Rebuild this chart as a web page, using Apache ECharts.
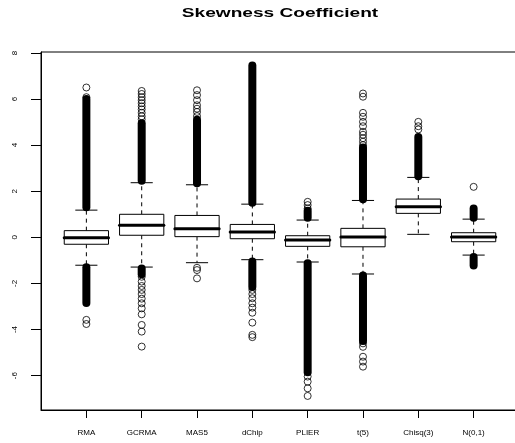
<!DOCTYPE html>
<html>
<head>
<meta charset="utf-8">
<title>Skewness Coefficient</title>
<script src="https://cdn.jsdelivr.net/npm/echarts@6/dist/echarts.min.js"></script>
<style>
  html, body { margin: 0; padding: 0; background: #fff; }
  #chart { width: 515px; height: 443px; }
</style>
</head>
<body>
<div id="chart"></div>
<script>

// 数据
//-----

// 各方法名称
var categories = ['RMA', 'GCRMA', 'MAS5', 'dChip', 'PLIER', 't(5)', 'Chisq(3)', 'N(0,1)'];

// 箱线图统计量
var whiskerLow  = [-1.21, -1.29, -1.10, -0.97, -1.07, -1.59, 0.13, -0.77];
var quartile1   = [-0.30,  0.09,  0.03, -0.06, -0.39, -0.41, 1.04, -0.19];
var medians     = [-0.02,  0.52,  0.37,  0.23, -0.12,  0.01, 1.33,  0.01];
var quartile3   = [ 0.29,  1.00,  0.95,  0.56,  0.07,  0.39, 1.66,  0.20];
var whiskerHigh = [ 1.18,  2.37,  2.28,  1.44,  0.75,  1.60, 2.60,  0.79];

// 异常值密集区间 [组号, 下端, 上端]
var denseRanges = [
  [1, 1.30, 6.00], [1, -2.85, -1.30],
  [2, 2.45, 4.95], [2, -1.60, -1.35],
  [3, 2.35, 5.10],
  [4, 1.50, 7.45], [4, -2.15, -1.05],
  [5, 0.85, 1.15], [5, -5.85, -1.12],
  [6, 1.65, 3.90], [6, -4.50, -1.65],
  [7, 2.65, 4.35],
  [8, 0.85, 1.25], [8, -1.22, -0.85]
];

// 单独的异常值 [组号, 数值]
var outliers = [
  [1, 6.50], [1, 6.08], [1, -3.58], [1, -3.76],
  [2, 6.35], [2, 6.22], [2, 6.08], [2, 5.95], [2, 5.82], [2, 5.68], [2, 5.55], [2, 5.40], [2, 5.25], [2, 5.12],
  [2, -1.71], [2, -1.92], [2, -2.11], [2, -2.28], [2, -2.46], [2, -2.66], [2, -2.86], [2, -3.08], [2, -3.34],
  [2, -3.80], [2, -4.09], [2, -4.74],
  [3, 6.38], [3, 6.17], [3, 5.95], [3, 5.73], [3, 5.58], [3, 5.44], [3, 5.26],
  [3, -1.32], [3, -1.42], [3, -1.78],
  [4, -2.28], [4, -2.46], [4, -2.64], [4, -2.86], [4, -3.05], [4, -3.27], [4, -3.70], [4, -4.23], [4, -4.33],
  [5, 1.54], [5, 1.40], [5, 1.25],
  [5, -6.04], [5, -6.26], [5, -6.55], [5, -6.88],
  [6, 6.24], [6, 6.10], [6, 5.40], [6, 5.23], [6, 5.01], [6, 4.82], [6, 4.58], [6, 4.45], [6, 4.30], [6, 4.15], [6, 4.00],
  [6, -4.60], [6, -4.75], [6, -5.18], [6, -5.39], [6, -5.61],
  [7, 5.01], [7, 4.82], [7, 4.68],
  [8, 2.19]
];

// 刻度
var xTicks = [1, 2, 3, 4, 5, 6, 7, 8];
var yTicks = [-6, -4, -2, 0, 2, 4, 6, 8];


// 箱线图
//-------
var boxData = categories.map(function (name, i) {
  return [i + 1, whiskerLow[i], quartile1[i], medians[i], quartile3[i], whiskerHigh[i]];
});

var renderBox = function (params, api) {
  var x = api.value(0);
  var lo = api.coord([x, api.value(1)]);
  var q1 = api.coord([x, api.value(2)]);
  var q3 = api.coord([x, api.value(4)]);
  var hi = api.coord([x, api.value(5)]);
  var left = api.coord([x - 0.4, api.value(3)]);
  var right = api.coord([x + 0.4, api.value(3)]);
  var capL = api.coord([x - 0.2, 0])[0];
  var capR = api.coord([x + 0.2, 0])[0];
  var dash = { stroke: '#000', lineWidth: 1, lineDash: [4, 4] };
  var solid = { stroke: '#000', lineWidth: 1 };
  return {
    type: 'group',
    children: [
      { type: 'line', shape: { x1: q3[0], y1: q3[1], x2: hi[0], y2: hi[1] }, style: dash },
      { type: 'line', shape: { x1: q1[0], y1: q1[1], x2: lo[0], y2: lo[1] }, style: dash },
      { type: 'line', shape: { x1: capL, y1: hi[1], x2: capR, y2: hi[1] }, style: solid },
      { type: 'line', shape: { x1: capL, y1: lo[1], x2: capR, y2: lo[1] }, style: solid },
      { type: 'rect', shape: { x: left[0], y: q3[1], width: right[0] - left[0], height: q1[1] - q3[1] },
        style: { fill: '#fff', stroke: '#000', lineWidth: 1 } },
      { type: 'line', shape: { x1: left[0], y1: left[1], x2: right[0], y2: right[1] },
        style: { stroke: '#000', lineWidth: 3, lineCap: 'round' } }
    ]
  };
};

// 异常值密集区域画成粗线
var renderDense = function (params, api) {
  var a = api.coord([api.value(0), api.value(1)]);
  var b = api.coord([api.value(0), api.value(2)]);
  return {
    type: 'line',
    shape: { x1: a[0], y1: a[1], x2: b[0], y2: b[1] },
    style: { stroke: '#000', lineWidth: 8, lineCap: 'round' }
  };
};

var myChart = echarts.init(document.getElementById('chart'));
var option = {
  animation: false,
  backgroundColor: '#fff',
  // 标题（原图横向拉伸过）
  graphic: [
    {
      type: 'text',
      x: 280,
      y: 7,
      scaleX: 1.47,
      style: {
        text: 'Skewness Coefficient',
        fill: '#000',
        font: 'bold 13px "Liberation Sans"',
        align: 'center',
        verticalAlign: 'top'
      }
    }
  ],
  grid: {
    left: 41, top: 52, width: 478, height: 358,
    outerBoundsMode: 'none',
    show: true, borderColor: '#000', borderWidth: 1
  },
  xAxis: {
    type: 'value',
    min: 0.18,
    max: 8.82,
    splitLine: { show: false },
    axisLine: { show: true, onZero: false, lineStyle: { color: '#000' } },
    axisTick: { show: true, customValues: xTicks, length: 8, lineStyle: { color: '#000' } },
    axisLabel: {
      customValues: xTicks,
      margin: 19,
      fontFamily: 'Liberation Sans',
      fontSize: 8,
      color: '#000',
      formatter: function (v) { return categories[Math.round(v) - 1]; }
    }
  },
  yAxis: {
    type: 'value',
    min: -7.49,
    max: 8.04,
    splitLine: { show: false },
    axisLine: { show: true, onZero: false, lineStyle: { color: '#000' } },
    axisTick: { show: true, customValues: yTicks, length: 10, lineStyle: { color: '#000' } },
    axisLabel: {
      customValues: yTicks,
      rotate: 90,
      margin: 22,
      fontFamily: 'Liberation Sans',
      fontSize: 8,
      color: '#000'
    }
  },
  series: [
    {
      type: 'custom',
      renderItem: renderDense,
      data: denseRanges
    },
    {
      type: 'scatter',
      symbol: 'circle',
      symbolSize: 7,
      itemStyle: { color: 'rgba(0,0,0,0)', borderColor: '#000', borderWidth: 1 },
      data: outliers
    },
    {
      type: 'custom',
      renderItem: renderBox,
      data: boxData
    }
  ]
};
myChart.setOption(option);

</script>
</body>
</html>
